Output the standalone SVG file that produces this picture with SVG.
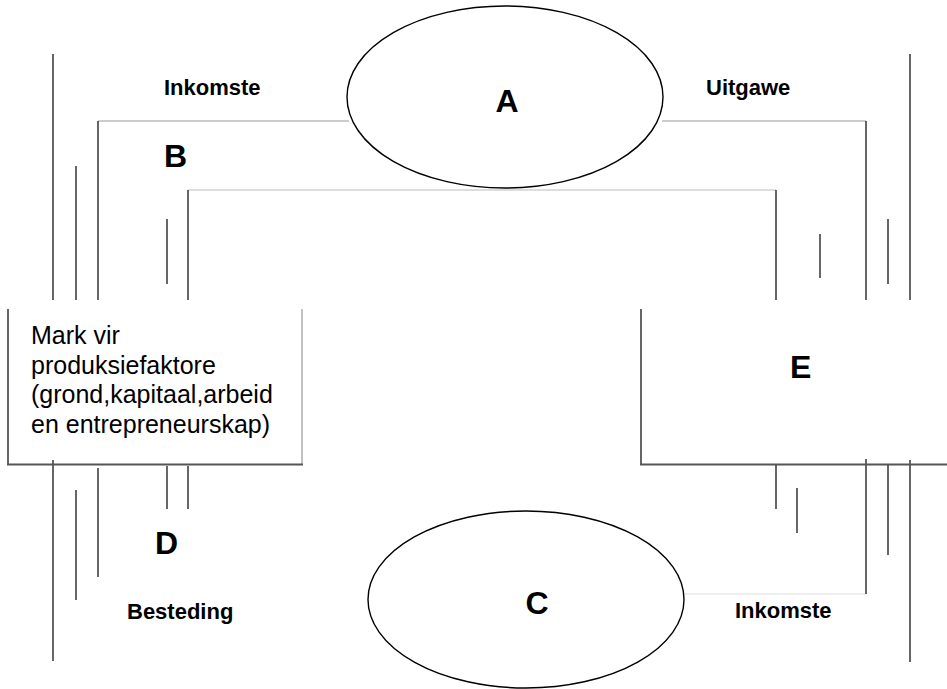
<svg xmlns="http://www.w3.org/2000/svg" width="947" height="689" viewBox="0 0 947 689">
<style>
.v{stroke:#000;stroke-width:1.2;fill:none}
.h1{stroke:#999;stroke-width:1.2}
.h2{stroke:#bbb;stroke-width:1.2}
.h3{stroke:#ddd;stroke-width:1.2}
.ell{fill:#fff;stroke:#000;stroke-width:1.4}
.big{font-family:"Liberation Sans",Arial,sans-serif;font-weight:bold;font-size:32px;fill:#000}
.lbl{font-family:"Liberation Sans",Arial,sans-serif;font-weight:bold;font-size:22px;fill:#000}
.box{font-family:"Liberation Sans",Arial,sans-serif;font-size:25px;fill:#000}
</style>
<rect width="947" height="689" fill="#fff"/>
<g id="connectors">
<line class="h1" x1="98" y1="121" x2="349" y2="121"/>
<line class="h1" x1="662" y1="121" x2="866" y2="121"/>
<line class="h2" x1="188" y1="190" x2="776" y2="190"/>
<line class="h3" x1="684" y1="594" x2="866" y2="594"/>
<line class="v" x1="53" y1="54" x2="53" y2="300"/>
<line class="v" x1="76" y1="166" x2="76" y2="300"/>
<line class="v" x1="98" y1="121" x2="98" y2="300"/>
<line class="v" x1="167" y1="219" x2="167" y2="284"/>
<line class="v" x1="188" y1="190" x2="188" y2="300"/>
<line class="v" x1="776" y1="190" x2="776" y2="300"/>
<line class="v" x1="820" y1="234" x2="820" y2="278"/>
<line class="v" x1="866" y1="121" x2="866" y2="300"/>
<line class="v" x1="888" y1="219" x2="888" y2="284"/>
<line class="v" x1="910" y1="54" x2="910" y2="300"/>
<line class="v" x1="53" y1="460" x2="53" y2="661"/>
<line class="v" x1="76" y1="490" x2="76" y2="600"/>
<line class="v" x1="98" y1="468" x2="98" y2="577"/>
<line class="v" x1="167" y1="466" x2="167" y2="509"/>
<line class="v" x1="188" y1="466" x2="188" y2="509"/>
<line class="v" x1="776" y1="465" x2="776" y2="509"/>
<line class="v" x1="797" y1="488" x2="797" y2="533"/>
<line class="v" x1="866" y1="459" x2="866" y2="594"/>
<line class="v" x1="888" y1="465" x2="888" y2="555"/>
<line class="v" x1="910" y1="460" x2="910" y2="662"/>
</g>
<g id="nodeA">
<ellipse class="ell" cx="505" cy="97" rx="158" ry="91"/>
<text class="big" x="507" y="112" text-anchor="middle">A</text>
</g>
<g id="nodeC">
<ellipse class="ell" cx="526" cy="599.5" rx="158" ry="88.5"/>
<text class="big" x="537" y="614" text-anchor="middle">C</text>
</g>
<g id="nodeMark">
<line x1="8" y1="309" x2="8" y2="465" stroke="#000" stroke-width="1.2"/>
<line x1="302" y1="309" x2="302" y2="465" stroke="#999" stroke-width="1.2"/>
<line x1="7" y1="464.5" x2="303" y2="464.5" stroke="#555" stroke-width="2"/>
<text class="box" x="31" y="344">Mark vir</text>
<text class="box" x="31" y="374">produksiefaktore</text>
<text class="box" x="31" y="403">(grond,kapitaal,arbeid</text>
<text class="box" x="31" y="433">en entrepreneurskap)</text>
</g>
<g id="nodeE">
<line x1="641" y1="309" x2="641" y2="465" stroke="#000" stroke-width="1.2"/>
<line x1="640" y1="464.5" x2="947" y2="464.5" stroke="#555" stroke-width="2"/>
<text class="big" x="790" y="378">E</text>
</g>
<g id="labels">
<text class="big" x="164" y="167">B</text>
<text class="big" x="155" y="554">D</text>
<text class="lbl" x="164" y="95">Inkomste</text>
<text class="lbl" x="706" y="95">Uitgawe</text>
<text class="lbl" x="127" y="619">Besteding</text>
<text class="lbl" x="735" y="618">Inkomste</text>
</g>
</svg>
